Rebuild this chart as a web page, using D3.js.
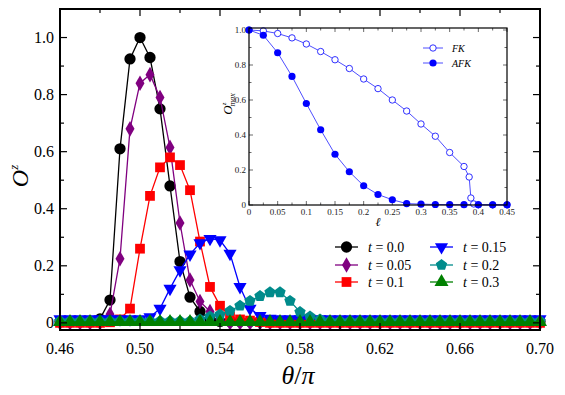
<!DOCTYPE html>
<head>
<meta charset="utf-8">
<script src="https://d3js.org/d3.v7.min.js"></script>
<style>
body { margin: 0; background: #fff; }
text { font-family: "Liberation Serif", "DejaVu Serif", serif; }
</style>
</head>
<body>
<svg width="565" height="395"></svg>
<script>
// main chart data
var theta = [0.46,0.465,0.47,0.475,0.48,0.485,0.49,0.495,0.50,0.505,0.51,0.515,0.52,0.525,0.53,0.535,0.54,0.545,0.55,0.555,
  0.56,0.565,0.57,0.575,0.58,0.585,0.59,0.595,0.60,0.605,0.61,0.615,0.62,0.625,0.63,0.635,0.64,0.645,0.65,0.655,
  0.66,0.665,0.67,0.675,0.68,0.685,0.69,0.695,0.70];

var t00 = [0.005,0.005,0.005,0.006,0.014,0.08,0.61,0.925,1.0,0.93,0.75,0.48,0.215,0.09,0.04,0.012,0.005,0.005,0.005,0.005,
  0.005,0.005,0.005,0.005,0.005,0.005,0.005,0.005,0.005,0.005,0.005,0.005,0.005,0.005,0.005,0.005,0.005,0.005,0.005,0.005,
  0.005,0.005,0.005,0.005,0.005,0.005,0.005,0.005,0.005];
var t05 = [0,0,0,0,0,0.03,0.225,0.68,0.84,0.87,0.79,0.615,0.35,0.15,0.075,0.04,0.012,0,0,0,
  0,0,0,0,0,0,0,0,0,0,0,0,0,0,0,0,0,0,0,0,
  0,0,0,0,0,0,0,0,0];
var t10 = [0,0,0,0,0,0.002,0.012,0.05,0.26,0.445,0.545,0.58,0.553,0.465,0.285,0.126,0.06,0.022,0.012,0.008,
  0.003,0,0,0,0,0,0,0,0,0,0,0,0,0,0,0,0,0,0,0,
  0,0,0,0,0,0,0,0,0];
var t15 = [0.013,0.013,0.013,0.013,0.013,0.013,0.013,0.013,0.013,0.02,0.05,0.12,0.185,0.24,0.28,0.295,0.29,0.243,0.126,0.05,
  0.025,0.015,0.013,0.013,0.013,0.013,0.013,0.013,0.013,0.013,0.013,0.013,0.013,0.013,0.013,0.013,0.013,0.013,0.013,0.013,
  0.013,0.013,0.013,0.013,0.013,0.013,0.013,0.013,0.013];
var t20 = [0.006,0.006,0.006,0.006,0.006,0.006,0.006,0.006,0.006,0.006,0.006,0.006,0.006,0.006,0.012,0.022,0.029,0.042,0.06,0.077,
  0.094,0.107,0.107,0.077,0.038,0.022,0.012,0.006,0.006,0.006,0.006,0.006,0.006,0.006,0.006,0.006,0.006,0.006,0.006,0.006,
  0.006,0.006,0.006,0.006,0.006,0.006,0.006,0.006,0.006];
var t30 = [0.003,0.003,0.003,0.003,0.003,0.003,0.003,0.003,0.003,0.003,0.003,0.003,0.003,0.003,0.003,0.003,0.003,0.003,0.003,0.003,
  0.003,0.003,0.003,0.003,0.003,0.003,0.003,0.003,0.003,0.003,0.003,0.003,0.003,0.003,0.003,0.003,0.003,0.003,0.003,0.003,
  0.003,0.003,0.003,0.003,0.003,0.003,0.003,0.003,0.003];

var seriesNames = ["t = 0.0", "t = 0.05", "t = 0.1", "t = 0.15", "t = 0.2", "t = 0.3"];
var xTicks = [0.46, 0.50, 0.54, 0.58, 0.62, 0.66, 0.70];
var yTicks = [0, 0.2, 0.4, 0.6, 0.8, 1.0];

// inset data
var lFK = [0,0.025,0.05,0.075,0.1,0.125,0.15,0.175,0.2,0.225,0.25,0.275,0.3,0.325,0.35,0.375,0.384,0.387,0.392,0.4,0.425,0.45];
var oFK = [1.0,0.995,0.98,0.955,0.92,0.877,0.83,0.78,0.72,0.665,0.60,0.537,0.463,0.393,0.30,0.22,0.16,0.04,0.006,0.002,0.001,0.001];
var lAFK = [0,0.025,0.05,0.075,0.1,0.125,0.15,0.175,0.2,0.225,0.25,0.275,0.3,0.325,0.35,0.375,0.4,0.425,0.45];
var oAFK = [1.0,0.97,0.87,0.735,0.58,0.43,0.29,0.19,0.11,0.06,0.03,0.008,0.005,0.003,0.002,0.002,0.001,0.001,0.001];
var insetXTicks = [0,0.05,0.1,0.15,0.2,0.25,0.3,0.35,0.4,0.45];
var insetYTicks = [0,0.2,0.4,0.6,0.8,1.0];

var svg = d3.select("svg");

var x = d3.scaleLinear().domain([0.46, 0.70]).range([60, 540]);
var y = d3.scaleLinear().domain([-0.025, 1.1]).range([330, 9]);

// pentagon symbol
var pentagon = {
  draw: function(ctx, size) {
    var r = Math.sqrt(size / 2.378);
    for (var i = 0; i < 5; i++) {
      var a = -Math.PI / 2 + i * 2 * Math.PI / 5;
      if (i == 0) ctx.moveTo(r * Math.cos(a), r * Math.sin(a));
      else ctx.lineTo(r * Math.cos(a), r * Math.sin(a));
    }
    ctx.closePath();
  }
};

var styles = [
  {color: "#000000", sym: d3.symbolCircle, size: 100, rot: 0},
  {color: "#800080", sym: d3.symbolDiamond, size: 70, rot: 0},
  {color: "#ff0000", sym: d3.symbolSquare, size: 95, rot: 0},
  {color: "#0000ff", sym: d3.symbolTriangle, size: 75, rot: 180},
  {color: "#008b8b", sym: pentagon, size: 85, rot: 0},
  {color: "#008000", sym: d3.symbolTriangle, size: 85, rot: 0}
];
var allSeries = [t00, t05, t10, t15, t20, t30];

var line = d3.line()
  .x(function(d) { return x(d[0]); })
  .y(function(d) { return y(d[1]); });

var plot = svg.append("g");

allSeries.forEach(function(vals, k) {
  var st = styles[k];
  var pts = theta.map(function(t, i) { return [t, vals[i]]; });
  plot.append("path")
    .attr("d", line(pts))
    .attr("fill", "none")
    .attr("stroke", st.color)
    .attr("stroke-width", 1.3);
  plot.selectAll(null)
    .data(pts)
    .enter().append("path")
    .attr("d", d3.symbol().type(st.sym).size(st.size))
    .attr("transform", function(d) {
      return "translate(" + x(d[0]) + "," + y(d[1]) + ") rotate(" + st.rot + ")";
    })
    .attr("fill", st.color);
});

// main frame & ticks
svg.append("rect")
  .attr("x", 60).attr("y", 9).attr("width", 480).attr("height", 321)
  .attr("fill", "none").attr("stroke", "#000").attr("stroke-width", 2);

var minorX = [0.48, 0.52, 0.56, 0.60, 0.64, 0.68];
var minorY = [0.1, 0.3, 0.5, 0.7, 0.9];
var tk = svg.append("g").attr("stroke", "#000").attr("stroke-width", 1.2);
xTicks.concat(minorX).forEach(function(v) {
  var len = xTicks.indexOf(v) >= 0 ? 7 : 4;
  tk.append("line").attr("x1", x(v)).attr("x2", x(v)).attr("y1", 330).attr("y2", 330 - len);
  tk.append("line").attr("x1", x(v)).attr("x2", x(v)).attr("y1", 9).attr("y2", 9 + len);
});
yTicks.concat(minorY).forEach(function(v) {
  var len = yTicks.indexOf(v) >= 0 ? 7 : 4;
  tk.append("line").attr("y1", y(v)).attr("y2", y(v)).attr("x1", 60).attr("x2", 60 + len);
  tk.append("line").attr("y1", y(v)).attr("y2", y(v)).attr("x1", 540).attr("x2", 540 - len);
});

svg.selectAll(".xl").data(xTicks).enter().append("text")
  .attr("x", function(d) { return x(d); }).attr("y", 354)
  .attr("text-anchor", "middle").attr("font-size", 16)
  .text(function(d) { return d.toFixed(2); });
svg.selectAll(".yl").data(yTicks).enter().append("text")
  .attr("x", 54).attr("y", function(d) { return y(d) + 5; })
  .attr("text-anchor", "end").attr("font-size", 16)
  .text(function(d) { return d == 0 ? "0" : d.toFixed(1); });

// axis titles
var xt = svg.append("text").attr("x", 298).attr("y", 384).attr("text-anchor", "middle")
  .attr("font-size", 26).attr("font-style", "italic");
xt.append("tspan").text("θ");
xt.append("tspan").attr("font-style", "normal").text("/");
xt.append("tspan").text("π");

var yt = svg.append("text").attr("transform", "translate(28,176) rotate(-90)")
  .attr("text-anchor", "middle").attr("font-size", 24).attr("font-style", "italic");
yt.append("tspan").text("O");
yt.append("tspan").attr("font-size", 13).attr("dy", -10).text("z");

// legend
var legPos = [[335, 247], [335, 265], [335, 282], [430, 247], [430, 265], [430, 282]];
seriesNames.forEach(function(name, k) {
  var st = styles[k], p = legPos[k];
  var g = svg.append("g").attr("transform", "translate(" + p[0] + "," + p[1] + ")");
  g.append("line").attr("x1", 0).attr("x2", 23).attr("y1", 0).attr("y2", 0)
    .attr("stroke", st.color).attr("stroke-width", 1.3);
  g.append("path").attr("d", d3.symbol().type(st.sym).size(st.size))
    .attr("transform", "translate(11.5,0) rotate(" + st.rot + ")").attr("fill", st.color);
  var tx = g.append("text").attr("x", 33).attr("y", 5).attr("font-size", 14);
  tx.append("tspan").attr("font-style", "italic").text("t");
  tx.append("tspan").text(name.slice(1));
});

// inset
var ix = d3.scaleLinear().domain([0, 0.45]).range([249, 507]);
var iy = d3.scaleLinear().domain([0, 1.0]).range([205, 30]);
var inset = svg.append("g");
inset.append("rect").attr("x", 249).attr("y", 28).attr("width", 258).attr("height", 177)
  .attr("fill", "#fff");

var itk = inset.append("g").attr("stroke", "#444").attr("stroke-width", 0.8);
d3.range(0, 19).forEach(function(i) {
  var v = i * 0.025, len = i % 2 == 0 ? 4 : 2.5;
  itk.append("line").attr("x1", ix(v)).attr("x2", ix(v)).attr("y1", 205).attr("y2", 205 - len);
  itk.append("line").attr("x1", ix(v)).attr("x2", ix(v)).attr("y1", 28).attr("y2", 28 + len);
});
d3.range(0, 11).forEach(function(i) {
  var v = i * 0.1, len = i % 2 == 0 ? 4 : 2.5;
  itk.append("line").attr("y1", iy(v)).attr("y2", iy(v)).attr("x1", 249).attr("x2", 249 + len);
  itk.append("line").attr("y1", iy(v)).attr("y2", iy(v)).attr("x1", 507).attr("x2", 507 - len);
});

var iline = d3.line().x(function(d) { return ix(d[0]); }).y(function(d) { return iy(d[1]); });
var fkPts = lFK.map(function(l, i) { return [l, oFK[i]]; });
var afkPts = lAFK.map(function(l, i) { return [l, oAFK[i]]; });
inset.append("path").attr("d", iline(fkPts)).attr("fill", "none").attr("stroke", "#3a3aff").attr("stroke-width", 0.9);
inset.append("path").attr("d", iline(afkPts)).attr("fill", "none").attr("stroke", "#3a3aff").attr("stroke-width", 0.9);
inset.selectAll(".fk").data(fkPts).enter().append("circle")
  .attr("cx", function(d) { return ix(d[0]); }).attr("cy", function(d) { return iy(d[1]); })
  .attr("r", 3.2).attr("fill", "#fff").attr("stroke", "#1a1aff").attr("stroke-width", 0.9);
inset.selectAll(".afk").data(afkPts).enter().append("circle")
  .attr("cx", function(d) { return ix(d[0]); }).attr("cy", function(d) { return iy(d[1]); })
  .attr("r", 3.6).attr("fill", "#0000ff");

inset.append("rect").attr("x", 249).attr("y", 28).attr("width", 258).attr("height", 177)
  .attr("fill", "none").attr("stroke", "#000").attr("stroke-width", 1.2);

inset.selectAll(".ixl").data(insetXTicks).enter().append("text")
  .attr("x", function(d) { return ix(d); }).attr("y", 215)
  .attr("text-anchor", "middle").attr("font-size", 9).attr("fill", "#222")
  .text(function(d) { return d == 0 ? "0" : String(d); });
inset.selectAll(".iyl").data(insetYTicks).enter().append("text")
  .attr("x", 246).attr("y", function(d) { return iy(d) + 3; })
  .attr("text-anchor", "end").attr("font-size", 9).attr("fill", "#222")
  .text(function(d) { return d == 0 ? "0" : d.toFixed(1); });

inset.append("text").attr("x", 378).attr("y", 226).attr("text-anchor", "middle")
  .attr("font-size", 12).attr("font-style", "italic").text("ℓ");
var iyt = inset.append("text").attr("transform", "translate(232,104) rotate(-90)")
  .attr("text-anchor", "middle").attr("font-size", 13).attr("font-style", "italic");
iyt.append("tspan").text("O");
iyt.append("tspan").attr("font-size", 7).attr("dy", -6).text("z");
iyt.append("tspan").attr("font-size", 8).attr("dx", -4).attr("dy", 9).text("max");

// inset legend
var ilg = inset.append("g");
ilg.append("line").attr("x1", 423).attr("x2", 443).attr("y1", 48).attr("y2", 48).attr("stroke", "#3a3aff").attr("stroke-width", 0.9);
ilg.append("circle").attr("cx", 433).attr("cy", 48).attr("r", 3.2).attr("fill", "#fff").attr("stroke", "#1a1aff").attr("stroke-width", 0.9);
ilg.append("text").attr("x", 452).attr("y", 52).attr("font-size", 10).attr("font-style", "italic").text("FK");
ilg.append("line").attr("x1", 423).attr("x2", 443).attr("y1", 63).attr("y2", 63).attr("stroke", "#3a3aff").attr("stroke-width", 0.9);
ilg.append("circle").attr("cx", 433).attr("cy", 63).attr("r", 3.6).attr("fill", "#0000ff");
ilg.append("text").attr("x", 452).attr("y", 67).attr("font-size", 10).attr("font-style", "italic").text("AFK");
</script>
</body>
